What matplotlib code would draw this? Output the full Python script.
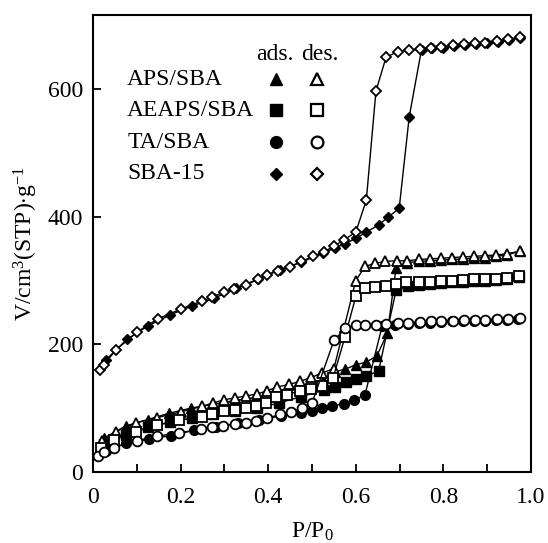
import matplotlib
matplotlib.use("Agg")
import matplotlib.pyplot as plt
from matplotlib.ticker import MultipleLocator

plt.rcParams["font.family"] = ["Liberation Serif", "DejaVu Serif"]
plt.rcParams["mathtext.fontset"] = "custom"
plt.rcParams["mathtext.rm"] = "Liberation Serif"
plt.rcParams["mathtext.it"] = "Liberation Serif"

# SBA-15
sba_ads_x = [0.030, 0.078, 0.126, 0.176, 0.226, 0.276, 0.326, 0.376, 0.426, 0.476, 0.526, 0.552,
             0.576, 0.600, 0.624, 0.652, 0.673, 0.699, 0.722, 0.750, 0.775, 0.800, 0.825, 0.850,
             0.875, 0.900, 0.925, 0.950, 0.975]
sba_ads_v = [176, 208, 229, 246, 260, 272, 288, 302, 317, 329, 343, 351,
             358, 366, 376, 387, 399, 413, 557, 662, 664, 665, 667, 669,
             671, 672, 674, 677, 680]
sba_des_x = [0.017, 0.025, 0.052, 0.100, 0.148, 0.200, 0.249, 0.272, 0.299, 0.322, 0.349, 0.377,
             0.397, 0.422, 0.450, 0.476, 0.502, 0.528, 0.550, 0.574, 0.600, 0.624, 0.646, 0.669,
             0.696, 0.721, 0.746, 0.771, 0.795, 0.823, 0.847, 0.871, 0.896, 0.923, 0.948, 0.974]
sba_des_v = [159, 168, 191, 219, 240, 255, 268, 274, 282, 287, 293, 302,
             309, 315, 321, 330, 338, 345, 354, 364, 376, 426, 597, 650,
             659, 661, 663, 665, 666, 669, 671, 673, 673, 676, 678, 682]

# APS/SBA
aps_ads_x = [0.025, 0.075, 0.125, 0.174, 0.224, 0.275, 0.325, 0.375, 0.425, 0.475, 0.525, 0.552,
             0.576, 0.600, 0.624, 0.648, 0.672, 0.692, 0.716, 0.745, 0.770, 0.795, 0.820, 0.845,
             0.870, 0.895, 0.920, 0.945, 0.975]
aps_ads_v = [53, 72, 82, 92, 100, 106, 112, 117, 123, 131, 142, 157,
             161, 168, 172, 182, 217, 320, 328, 330, 331, 332, 333, 334,
             335, 336, 338, 340, 346]
aps_des_x = [0.020, 0.052, 0.098, 0.146, 0.200, 0.250, 0.274, 0.299, 0.324, 0.349, 0.374, 0.397,
             0.420, 0.447, 0.473, 0.498, 0.523, 0.550, 0.600, 0.621, 0.644, 0.667, 0.694, 0.717,
             0.745, 0.770, 0.795, 0.820, 0.845, 0.870, 0.895, 0.920, 0.945, 0.975]
aps_des_v = [48, 63, 77, 85, 94, 103, 108, 113, 116, 119, 122, 127,
             133, 137, 142, 148, 155, 162, 300, 322, 327, 330, 331, 331,
             333, 334, 335, 336, 337, 338, 339, 340, 342, 346]

# AEAPS/SBA
aeaps_ads_x = [0.025, 0.075, 0.125, 0.175, 0.225, 0.275, 0.325, 0.375, 0.425, 0.475, 0.528, 0.552,
               0.578, 0.600, 0.623, 0.652, 0.692, 0.720, 0.745, 0.770, 0.795, 0.820, 0.845, 0.870,
               0.895, 0.920, 0.945, 0.973]
aeaps_ads_v = [44, 58, 70, 78, 84, 90, 95, 100, 108, 118, 128, 133,
               141, 146, 150, 158, 285, 291, 293, 295, 296, 297, 298, 299,
               300, 301, 302, 305]
aeaps_des_x = [0.018, 0.048, 0.098, 0.146, 0.196, 0.249, 0.272, 0.299, 0.324, 0.349, 0.372, 0.395,
               0.418, 0.443, 0.472, 0.498, 0.523, 0.548, 0.575, 0.600, 0.621, 0.644, 0.669, 0.692,
               0.715, 0.745, 0.770, 0.795, 0.820, 0.845, 0.870, 0.895, 0.920, 0.945, 0.973]
aeaps_des_v = [38, 50, 63, 73, 81, 86, 91, 95, 97, 100, 103, 108,
               117, 121, 127, 130, 135, 147, 211, 275, 289, 290, 292, 295,
               297, 297, 298, 299, 300, 301, 302, 303, 303, 304, 307]

# TA/SBA
ta_ads_x = [0.030, 0.075, 0.128, 0.178, 0.230, 0.280, 0.330, 0.380, 0.430, 0.475, 0.500, 0.523,
            0.546, 0.573, 0.596, 0.621, 0.660, 0.690, 0.720, 0.745, 0.770, 0.795, 0.820, 0.845,
            0.870, 0.895, 0.920, 0.945, 0.970]
ta_ads_v = [33, 45, 51, 57, 65, 71, 76, 81, 88, 92, 95, 100,
            103, 107, 112, 121, 228, 230, 232, 233, 234, 235, 236, 237,
            237, 237, 238, 238, 240]
ta_des_x = [0.012, 0.025, 0.048, 0.100, 0.146, 0.196, 0.246, 0.272, 0.297, 0.324, 0.349, 0.372,
            0.397, 0.427, 0.452, 0.477, 0.500, 0.550, 0.576, 0.600, 0.622, 0.645, 0.668, 0.696,
            0.720, 0.746, 0.771, 0.795, 0.822, 0.847, 0.871, 0.896, 0.923, 0.948, 0.974]
ta_des_v = [25, 31, 38, 49, 56, 61, 67, 70, 72, 75, 77, 79,
            84, 90, 94, 100, 108, 206, 225, 231, 231, 231, 232, 233,
            233, 235, 236, 236, 237, 238, 238, 238, 239, 239, 242]

sample_names = ["APS/SBA", "AEAPS/SBA", "TA/SBA", "SBA-15"]
markers = ["^", "s", "o", "D"]
sizes = [6.5, 6.5, 7, 5]

series = [
    (aps_ads_x, aps_ads_v, aps_des_x, aps_des_v),
    (aeaps_ads_x, aeaps_ads_v, aeaps_des_x, aeaps_des_v),
    (ta_ads_x, ta_ads_v, ta_des_x, ta_des_v),
    (sba_ads_x, sba_ads_v, sba_des_x, sba_des_v),
]

fig = plt.figure(figsize=(5.48, 5.43), dpi=100)
ax = fig.add_axes([0.1697, 0.131, 0.7993, 0.841])

# adsorption (filled) first, desorption (open) on top
for (ads_x, ads_v, dx, dv), m, ms in zip(series, markers, sizes):
    ax.plot(ads_x, ads_v, color="black", lw=1.0, marker=m, ms=ms,
            mfc="black", mec="black", mew=1.0, zorder=3)
for (ads_x, ads_v, dx, dv), m, ms in zip(series, markers, sizes):
    ax.plot(dx, dv, color="black", lw=1.0, marker=m, ms=ms,
            mfc="white", mec="black", mew=1.3, zorder=4)

# legend drawn as text + markers
ax.text(0.416, 0.915, "ads.", transform=ax.transAxes, ha="center", va="center", fontsize=17)
ax.text(0.518, 0.915, "des.", transform=ax.transAxes, ha="center", va="center", fontsize=17)
rows_y = [0.860, 0.792, 0.722, 0.653]
for name, m, ms, yy in zip(sample_names, markers, sizes, rows_y):
    ax.text(0.078, yy, name, transform=ax.transAxes, ha="left", va="center", fontsize=17)
    ax.plot([0.418], [yy], transform=ax.transAxes, marker=m, ms=ms + 1.5,
            mfc="black", mec="black", ls="none", clip_on=False)
    ax.plot([0.511], [yy], transform=ax.transAxes, marker=m, ms=ms + 1.5,
            mfc="white", mec="black", mew=1.6, ls="none", clip_on=False)

ax.set_xlim(0, 1.0)
ax.set_ylim(0, 716)
ax.set_xticks([0, 0.2, 0.4, 0.6, 0.8, 1.0])
ax.set_xticklabels(["0", "0.2", "0.4", "0.6", "0.8", "1.0"])
ax.xaxis.set_minor_locator(MultipleLocator(0.1))
ax.yaxis.set_major_locator(MultipleLocator(200))
ax.tick_params(axis="both", which="both", direction="in", length=6, width=1.3,
               labelsize=17)
ax.tick_params(axis="x", which="both", pad=11)
ax.tick_params(axis="y", which="both", pad=7)
for s in ax.spines.values():
    s.set_linewidth(1.5)

ax.set_xlabel("P/P$_0$", fontsize=17, labelpad=9)
ax.set_ylabel("V/cm$^3$(STP)$\\cdot$g$^{-1}$", fontsize=17, labelpad=6)

plt.savefig("out.png", dpi=100)
